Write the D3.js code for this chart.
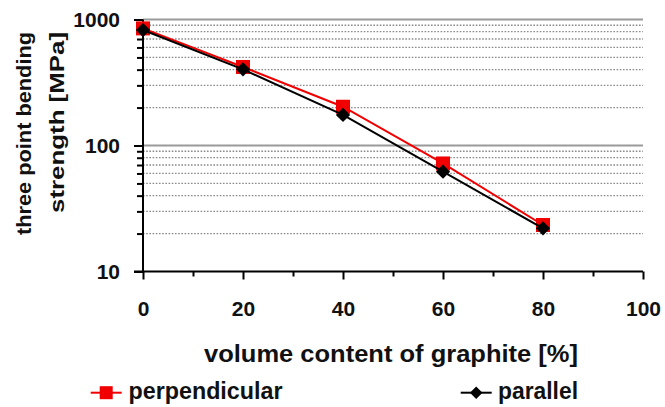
<!DOCTYPE html>
<html>
<head>
<meta charset="utf-8">
<script src="https://cdn.jsdelivr.net/npm/d3@7"></script>
<style>
  html, body { margin: 0; padding: 0; background: #fff; }
  svg { display: block; font-family: "Liberation Sans", Arial, sans-serif; font-weight: bold; }
</style>
</head>
<body>
<svg id="chart" width="665" height="407"></svg>
<script>
// Graphite content (vol.%) and three point bending strength (MPa)
const graphiteContent = [0, 20, 40, 60, 80];
const perpendicular = [850, 420, 203, 72, 23.4];
const parallel = [825, 402, 175, 62, 22];

const xTicks = [0, 20, 40, 60, 80, 100];
const xMinorTicks = [10, 30, 50, 70, 90];
const yMajorTicks = [10, 100, 1000];
const yMinorTicks = [20, 30, 40, 50, 60, 70, 80, 90, 200, 300, 400, 500, 600, 700, 800, 900];

const svg = d3.select("#chart");

const plotLeft = 143, plotRight = 643, plotTop = 19.5, plotBottom = 271.5;
const x = d3.scaleLinear().domain([0, 100]).range([plotLeft, plotRight]);
const y = d3.scaleLog().domain([10, 1000]).range([plotBottom, plotTop]);

// Grid: dotted minor lines, solid decade lines
svg.append("g").selectAll("line").data(yMinorTicks).join("line")
  .attr("x1", plotLeft).attr("x2", plotRight)
  .attr("y1", d => y(d)).attr("y2", d => y(d))
  .attr("stroke", "#8a8a8a").attr("stroke-width", 1.3)
  .attr("stroke-dasharray", "1.6,1.6");
svg.append("g").selectAll("line").data([100, 1000]).join("line")
  .attr("x1", plotLeft).attr("x2", plotRight)
  .attr("y1", d => y(d)).attr("y2", d => y(d))
  .attr("stroke", "#9a9a9a").attr("stroke-width", 2);

// Y axis
const yAxis = svg.append("g").attr("transform", `translate(${plotLeft},0)`)
  .call(d3.axisLeft(y).tickValues(yMajorTicks).tickSize(9).tickPadding(14)
    .tickFormat(d3.format("d")));
svg.append("g").attr("transform", `translate(${plotLeft},0)`)
  .call(d3.axisLeft(y).tickValues(yMinorTicks).tickSize(6).tickFormat(""))
  .call(g => g.select(".domain").remove());

// X axis
const xAxis = svg.append("g").attr("transform", `translate(0,${plotBottom})`)
  .call(d3.axisBottom(x).tickValues(xTicks).tickSize(8).tickPadding(22));
svg.append("g").attr("transform", `translate(0,${plotBottom})`)
  .call(d3.axisBottom(x).tickValues(xMinorTicks).tickSize(5).tickFormat(""))
  .call(g => g.select(".domain").remove());

svg.selectAll(".domain").attr("stroke", "#000").attr("stroke-width", 2);
svg.selectAll(".tick line").attr("stroke", "#000").attr("stroke-width", 2);
svg.selectAll(".tick text").attr("font-size", 21).attr("font-weight", "bold")
  .attr("fill", "#111").attr("font-family", "'Liberation Sans', Arial, sans-serif");
// continue the x axis to the left end of the 10 tick
xAxis.select(".domain").attr("d", `M${plotLeft - 9},0H${plotRight}`);
yAxis.select(".domain").attr("d", `M0,${plotTop}V${plotBottom}`);

// Series lines and markers
const line = d3.line().x((d, i) => x(graphiteContent[i])).y(d => y(d));

svg.append("path").datum(perpendicular)
  .attr("d", line).attr("fill", "none")
  .attr("stroke", "#f00000").attr("stroke-width", 2);
svg.append("g").selectAll("rect").data(perpendicular).join("rect")
  .attr("x", (d, i) => x(graphiteContent[i]) - 7)
  .attr("y", d => y(d) - 7)
  .attr("width", 14).attr("height", 14)
  .attr("fill", "#f00000");

const diamond = d3.symbol().type(d3.symbolDiamond2).size(130);
svg.append("path").datum(parallel)
  .attr("d", line).attr("fill", "none")
  .attr("stroke", "#000").attr("stroke-width", 2);
svg.append("g").selectAll("path").data(parallel).join("path")
  .attr("d", diamond)
  .attr("transform", (d, i) => `translate(${x(graphiteContent[i])},${y(d)})`)
  .attr("fill", "#000");

// Axis titles
const yTitle = svg.append("g").attr("fill", "#111").attr("font-size", 21);
yTitle.append("text")
  .attr("transform", "translate(31,235) rotate(-90)")
  .attr("text-anchor", "start")
  .attr("textLength", 203).attr("lengthAdjust", "spacingAndGlyphs")
  .text("three point bending");
yTitle.append("text")
  .attr("transform", "translate(64,213) rotate(-90)")
  .attr("text-anchor", "start")
  .attr("textLength", 181).attr("lengthAdjust", "spacingAndGlyphs")
  .text("strength [MPa]");

svg.append("text")
  .attr("x", 204).attr("y", 361.5)
  .attr("font-size", 23).attr("fill", "#111")
  .attr("textLength", 374).attr("lengthAdjust", "spacingAndGlyphs")
  .text("volume content of graphite [%]");

// Legend
const legendY = 392.7;
const lg = svg.append("g");
lg.append("line").attr("x1", 90.7).attr("x2", 121.7)
  .attr("y1", legendY).attr("y2", legendY)
  .attr("stroke", "#f00000").attr("stroke-width", 2);
lg.append("rect").attr("x", 106.2 - 6.5).attr("y", legendY - 6.5)
  .attr("width", 13).attr("height", 13).attr("fill", "#f00000");
lg.append("text").attr("x", 128.5).attr("y", 398.5)
  .attr("font-size", 23).attr("fill", "#111")
  .attr("textLength", 154).attr("lengthAdjust", "spacingAndGlyphs")
  .text("perpendicular");

lg.append("line").attr("x1", 460.7).attr("x2", 491.7)
  .attr("y1", legendY).attr("y2", legendY)
  .attr("stroke", "#000").attr("stroke-width", 2);
lg.append("path").attr("d", d3.symbol().type(d3.symbolDiamond2).size(100))
  .attr("transform", `translate(476.2,${legendY})`).attr("fill", "#000");
lg.append("text").attr("x", 498).attr("y", 398.5)
  .attr("font-size", 23).attr("fill", "#111")
  .attr("textLength", 80).attr("lengthAdjust", "spacingAndGlyphs")
  .text("parallel");
</script>
</body>
</html>
